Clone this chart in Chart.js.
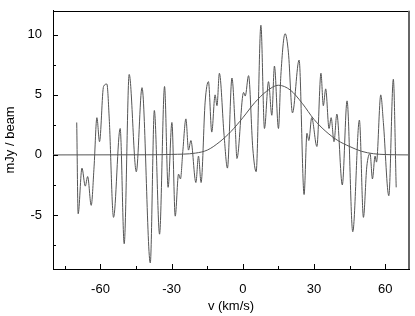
<!DOCTYPE html>
<html>
<head>
<meta charset="utf-8">
<script src="https://cdn.jsdelivr.net/npm/chart.js@4.4.1/dist/chart.umd.min.js"></script>
<style>
  html, body { margin: 0; padding: 0; background: #fff; }
  #wrap { width: 415px; height: 316px; }
</style>
</head>
<body>
<div id="wrap"><canvas id="spectrumChart"></canvas></div>
<script>
// Spectrum
const spectrumVel = [
    -70.0, -69.4, -67.8, -66.4, -65.4, -63.9, -62.7, -61.5, -60.4, -58.7,
    -57.3, -56.3, -54.5, -51.7, -50.0, -47.9, -44.9, -42.5, -39.0, -37.3,
    -35.1, -33.0, -31.5, -29.9, -28.5, -27.1, -26.3, -25.3, -24.0, -22.9,
    -21.9, -19.8, -18.7, -17.6, -15.9, -14.5, -13.1, -11.7, -10.9, -9.9,
    -7.9, -6.5, -4.6, -3.2, -2.5, 0.3, 1.0, 2.4, 4.2, 5.6,
    7.6, 9.1, 10.8, 12.2, 13.3, 15.0, 16.0, 17.8, 19.2, 20.9,
    23.7, 25.8, 27.0, 27.8, 29.0, 31.2, 32.9, 33.9, 34.9, 36.3,
    37.2, 38.4, 39.6, 41.9, 43.9, 46.3, 49.1, 50.8, 52.2, 53.6,
    54.6, 55.7, 56.3, 58.1, 59.2, 61.5, 63.4, 64.6
];
const spectrumFlux = [
    2.7, -4.9, -1.1, -2.6, -1.8, -4.2, -1.0, 3.1, 1.1, 5.7,
    5.9, 3.0, -5.2, 2.2, -7.4, 6.7, -1.4, 5.6, -9.0, 3.7,
    -6.6, 5.7, -2.7, 2.7, -5.1, -1.6, -2.0, 0.3, 3.0, 0.4,
    1.2, -2.3, -0.1, -2.3, 4.4, 6.1, 1.9, 5.0, 4.1, 6.8,
    1.6, -1.1, 6.4, 2.2, -0.3, 5.2, 4.9, 6.6, 0.5, -1.4,
    10.8, 2.2, 6.1, 3.3, 7.4, 2.2, 6.6, 10.1, 8.5, 3.5,
    7.9, -3.3, 1.8, 1.2, 3.1, 0.7, 6.8, 4.1, 5.5, 2.2,
    3.1, 1.1, 3.4, -2.5, 4.5, -6.4, 2.9, -5.2, -1.0, 0.1,
    -2.0, -0.1, -0.6, 5.0, 2.7, -3.4, 6.3, -2.7
];

// Gaussian fit curve
const fitVel = [-80, -40, -30, -20, -15, -10, -5, 0, 5, 10, 15, 20, 25, 30, 35, 40, 45, 50, 55, 60, 70];
const fitFlux = [0, 0.01, 0.04, 0.15, 0.4, 1.05, 1.95, 3.1, 4.35, 5.3, 5.8, 5.4, 4.3, 2.95, 1.95, 1.2, 0.7, 0.3, 0.1, 0.03, 0];

// Axis ticks
const xTickValues = [-60, -30, 0, 30, 60];
const xMinorTicks = [-75, -45, -15, 15, 45];
const yTickValues = [-5, 0, 5, 10];
const yMinorTicks = [-7.5, -2.5, 2.5, 7.5];

const FONT = { family: '"Liberation Sans", Arial, sans-serif', size: 13 };

// Ticks point into the plot, plus the top and right frame lines
const innerTicks = {
    id: 'innerTicks',
    afterDraw(chart) {
        const { ctx, chartArea: a, scales: { x, y } } = chart;
        ctx.save();
        ctx.strokeStyle = '#000';
        ctx.lineWidth = 1;
        ctx.beginPath();
        xTickValues.forEach(v => {
            const px = Math.round(x.getPixelForValue(v)) + 0.5;
            ctx.moveTo(px, a.bottom);
            ctx.lineTo(px, a.bottom - 5);
        });
        xMinorTicks.forEach(v => {
            const px = Math.round(x.getPixelForValue(v)) + 0.5;
            ctx.moveTo(px, a.bottom);
            ctx.lineTo(px, a.bottom - 3);
        });
        yTickValues.forEach(v => {
            const py = Math.round(y.getPixelForValue(v)) + 0.5;
            ctx.moveTo(a.left, py);
            ctx.lineTo(a.left + 5, py);
        });
        yMinorTicks.forEach(v => {
            const py = Math.round(y.getPixelForValue(v)) + 0.5;
            ctx.moveTo(a.left, py);
            ctx.lineTo(a.left + 3, py);
        });
        ctx.moveTo(a.left, Math.round(a.top) + 0.5);
        ctx.lineTo(a.right, Math.round(a.top) + 0.5);
        ctx.stroke();

        ctx.strokeStyle = '#666';
        ctx.lineWidth = 2;
        ctx.beginPath();
        ctx.moveTo(Math.round(a.right), a.top);
        ctx.lineTo(Math.round(a.right), a.bottom);
        ctx.stroke();
        ctx.restore();
    }
};

new Chart(document.getElementById('spectrumChart'), {
    type: 'line',
    data: {
        datasets: [
            {
                label: 'spectrum',
                data: spectrumVel.map((v, i) => ({ x: v, y: spectrumFlux[i] })),
                borderColor: '#555',
                borderWidth: 1,
                pointRadius: 0,
                cubicInterpolationMode: 'monotone'
            },
            {
                label: 'fit',
                data: fitVel.map((v, i) => ({ x: v, y: fitFlux[i] })),
                borderColor: '#555',
                borderWidth: 1,
                pointRadius: 0,
                cubicInterpolationMode: 'monotone'
            }
        ]
    },
    plugins: [innerTicks],
    options: {
        responsive: true,
        maintainAspectRatio: false,
        animation: false,
        layout: { padding: { top: 7, right: 6, left: 0, bottom: 0 } },
        plugins: {
            legend: { display: false },
            tooltip: { enabled: false }
        },
        scales: {
            x: {
                type: 'linear',
                min: -80,
                max: 70,
                grid: { display: false },
                border: { display: true, color: '#000', width: 1 },
                afterBuildTicks: scale => {
                    scale.ticks = xTickValues.map(v => ({ value: v }));
                },
                afterFit: scale => { scale.height = 47; },
                ticks: {
                    color: '#000',
                    font: FONT,
                    padding: 5,
                    maxRotation: 0
                },
                title: {
                    display: true,
                    text: 'v (km/s)',
                    color: '#000',
                    font: FONT,
                    padding: { top: 2, bottom: 2 }
                }
            },
            y: {
                min: -9.5,
                max: 12,
                grid: { display: false },
                border: { display: true, color: '#000', width: 1 },
                afterBuildTicks: scale => {
                    scale.ticks = yTickValues.map(v => ({ value: v }));
                },
                afterFit: scale => { scale.width = 53; },
                ticks: {
                    color: '#000',
                    font: FONT,
                    padding: 3
                },
                title: {
                    display: true,
                    text: 'mJy / beam',
                    color: '#000',
                    font: FONT,
                    padding: { top: 3, bottom: 0 }
                }
            }
        }
    }
});
</script>
</body>
</html>
